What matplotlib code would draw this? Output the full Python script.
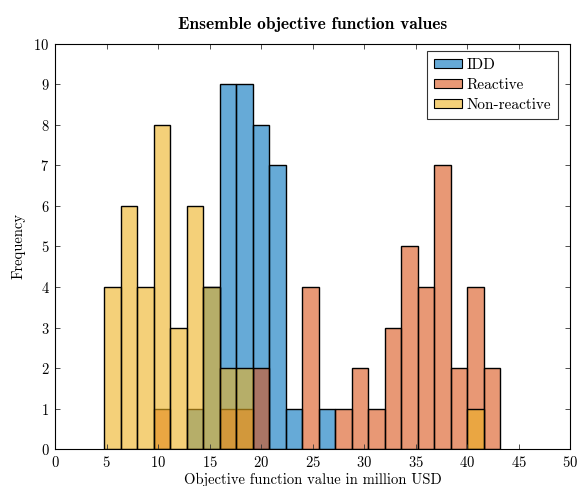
import numpy as np
import matplotlib
matplotlib.use("Agg")
import matplotlib.pyplot as plt
from matplotlib.patches import Patch

# Histogram bins (million USD) and counts per scenario
bin_start = 4.8
bin_width = 1.6
n_bins = 24
bin_edges = bin_start + bin_width * np.arange(n_bins + 1)

idd_counts = [0, 0, 0, 0, 0, 1, 4, 9, 9, 8, 7, 1, 0, 1, 0, 0, 0, 0, 0, 0, 0, 0, 0, 0]
reactive_counts = [0, 0, 0, 1, 0, 0, 0, 1, 1, 2, 0, 0, 4, 0, 1, 2, 1, 3, 5, 4, 7, 2, 4, 2]
nonreactive_counts = [4, 6, 4, 8, 3, 6, 4, 2, 2, 0, 0, 0, 0, 0, 0, 0, 0, 0, 0, 0, 0, 0, 1, 0]

series_names = ["IDD", "Reactive", "Non-reactive"]
series_colors = [(0.0, 0.447, 0.741), (0.85, 0.325, 0.098), (0.929, 0.694, 0.125)]
fill_alpha = 0.6

plt.rcParams["font.family"] = ["cmr10", "DejaVu Serif"]
plt.rcParams["mathtext.fontset"] = "cm"
plt.rcParams["axes.formatter.use_mathtext"] = True

fig = plt.figure(figsize=(5.79, 4.86), dpi=100)
ax = fig.add_axes([0.095, 0.0761, 0.8895, 0.8334])

all_counts = [idd_counts, reactive_counts, nonreactive_counts]
for counts, color in zip(all_counts, series_colors):
    counts = np.asarray(counts)
    mask = counts > 0
    ax.bar(bin_edges[:-1][mask], counts[mask], width=bin_width, align="edge",
           facecolor=(*color, fill_alpha), edgecolor="black", linewidth=1.0)

ax.set_xlim(0, 50)
ax.set_ylim(0, 10)
ax.set_xticks(np.arange(0, 51, 5))
ax.set_yticks(np.arange(0, 11, 1))
ax.tick_params(direction="in", top=True, right=True, length=3.5, width=0.6,
               labelsize=10.5, pad=4, colors="#333333", labelcolor="black")
for s in ax.spines.values():
    s.set_linewidth(0.8)

ax.set_xlabel("Objective function value in million USD", fontsize=10.5, labelpad=2)
ax.set_ylabel("Frequency", fontsize=10.5, labelpad=6)
ax.set_title("Ensemble objective function values", fontsize=12.5,
             fontfamily=["cmb10", "DejaVu Serif"], pad=11)

handles = [Patch(facecolor=(*c, fill_alpha), edgecolor="black", linewidth=0.8)
           for c in series_colors]
leg = ax.legend(handles, series_names, loc="upper right",
                bbox_to_anchor=(0.9767, 0.982), borderaxespad=0.0, fontsize=11,
                frameon=True, fancybox=False, edgecolor="black",
                handlelength=1.85, handleheight=0.55, handletextpad=0.28,
                borderpad=0.45, labelspacing=0.42)
leg.get_frame().set_linewidth(0.8)

fig.savefig("out.png", dpi=100)
